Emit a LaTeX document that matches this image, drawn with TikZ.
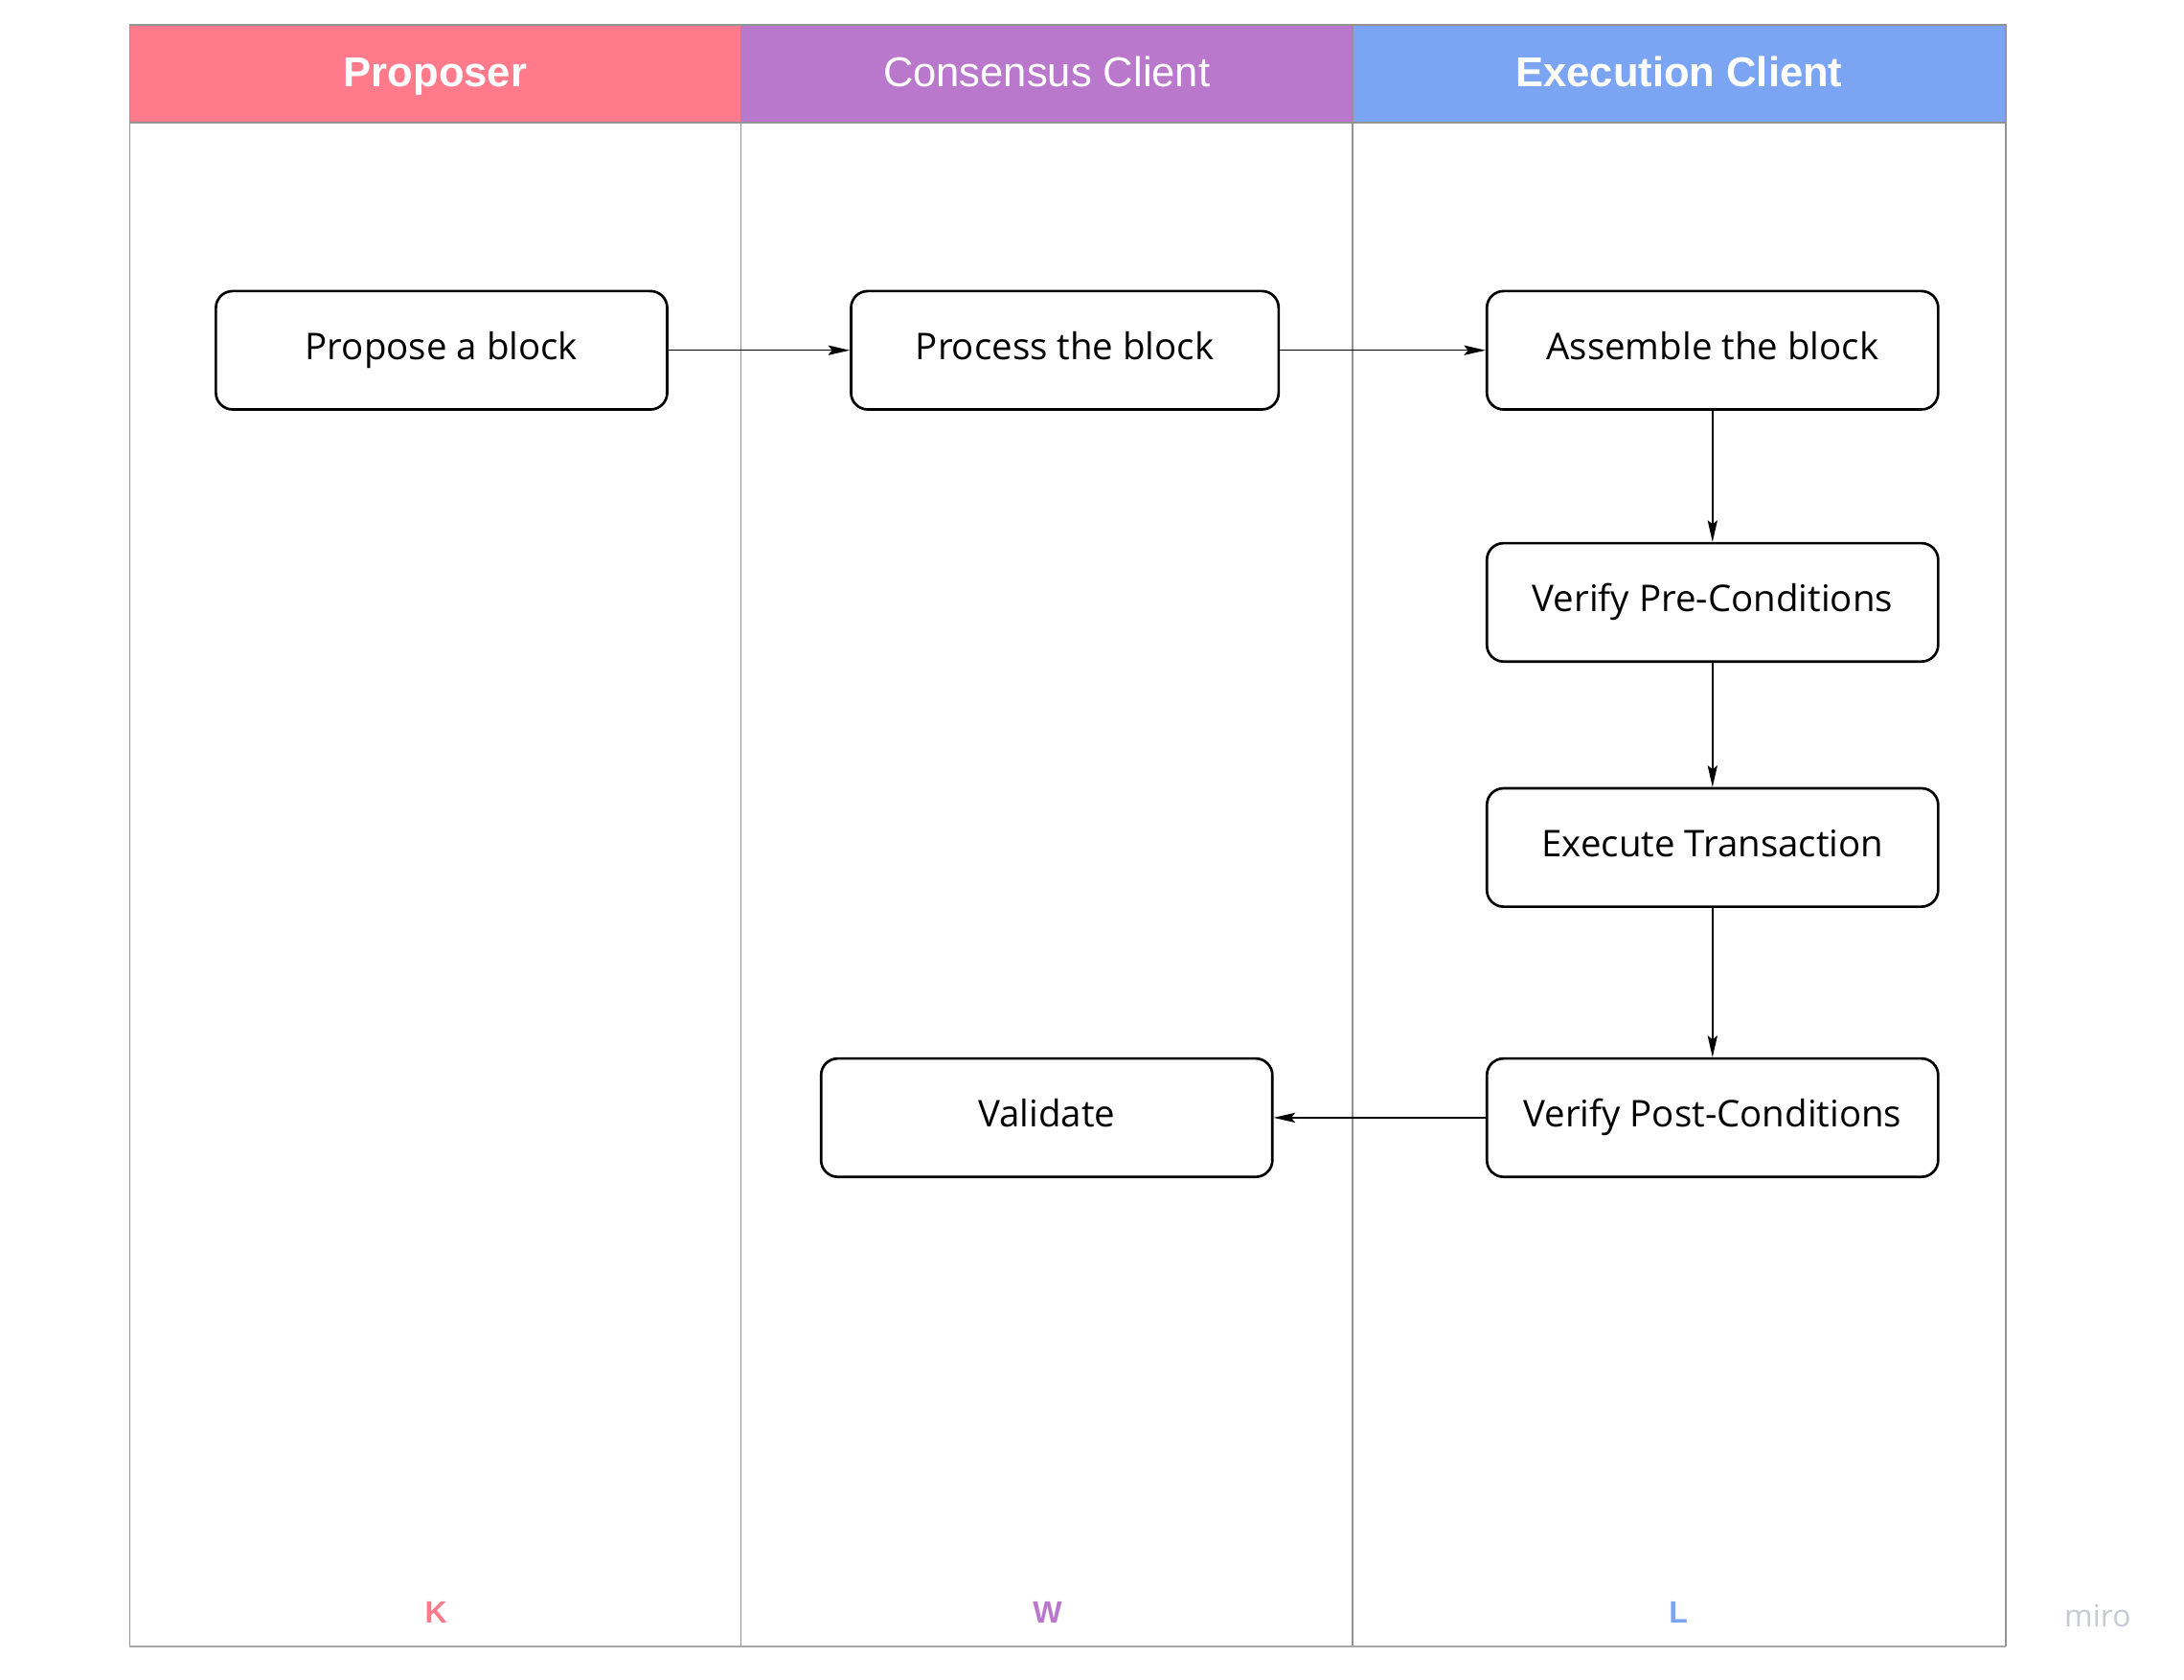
\documentclass[tikz,border=0pt]{standalone}
\usepackage{fontspec}
\setmainfont{Open Sans}
\newfontfamily\headfont{Liberation Sans}
\usetikzlibrary{arrows.meta}

\begin{document}
\begin{tikzpicture}[x=0.25mm, y=-0.25mm,
    lane/.style={draw=gray!85, line width=0.7pt},
    lanehead/.style={draw=gray!85, line width=0.7pt, minimum height=70*0.25mm,
        text=white, font=\headfont\fontsize{21.3}{24}\selectfont, inner sep=0pt,
        text height=15pt, text depth=1.5pt},
    stepbox/.style={draw, line width=1.3pt, rounded corners=3mm, fill=white,
        minimum width=81mm, minimum height=21.25mm, font=\fontsize{18.8}{22}\selectfont,
        text height=14pt, text depth=4.5pt},
    flow/.style={line width=0.7pt, -{Stealth[length=11pt, width=5pt, inset=2pt]}},
    lanetag/.style={font=\headfont\bfseries\fontsize{15.7}{18}\selectfont}]

    % Colors for the lanes
    \definecolor{propcol}{HTML}{FF7B8C}
    \definecolor{conscol}{HTML}{BA78CC}
    \definecolor{execcol}{HTML}{7BA5F3}
    \definecolor{mirogray}{HTML}{C8CAD3}

    \useasboundingbox (0,0) rectangle (1568,1206);

    % Lanes
    \draw[lane] (93,88) rectangle (532,1182);
    \draw[lane] (532,88) rectangle (971,1182);
    \draw[lane] (971,88) rectangle (1440,1182);
    \draw[gray!70, line width=1.2pt] (93,1182) -- (1440,1182);

    % Lane headers
    \node[lanehead, fill=propcol, minimum width=439*0.25mm, font=\headfont\bfseries\fontsize{21.3}{24}\selectfont]
        (proposer) at (312.5,53) {Proposer};
    \node[lanehead, fill=conscol, minimum width=439*0.25mm]
        (consensus) at (751.5,53) {Consensus Client};
    \node[lanehead, fill=execcol, minimum width=469*0.25mm, font=\headfont\bfseries\fontsize{21.3}{24}\selectfont]
        (execution) at (1205.5,53) {Execution Client};

    % Steps
    \node[stepbox] (propose) at (317,251.5) {Propose a block};
    \node[stepbox, minimum width=76.75mm] (process) at (764.5,251.5) {Process the block};
    \node[stepbox] (assemble) at (1229.5,251.5) {Assemble the block};
    \node[stepbox] (precond) at (1229.5,432.5) {Verify Pre-Conditions};
    \node[stepbox] (execute) at (1229.5,608.5) {Execute Transaction};
    \node[stepbox] (postcond) at (1229.5,802.5) {Verify Post-Conditions};
    \node[stepbox] (validate) at (751.5,802.5) {Validate};

    % Flow
    \draw[flow] (propose) -- (process);
    \draw[flow] (process) -- (assemble);
    \draw[flow] (assemble) -- (precond);
    \draw[flow] (precond) -- (execute);
    \draw[flow] (execute) -- (postcond);
    \draw[flow] (postcond) -- (validate);

    % Lane tags
    \node[lanetag, text=propcol] (tagK) at (313,1158) {K};
    \node[lanetag, text=conscol] (tagW) at (752,1158) {W};
    \node[lanetag, text=execcol] (tagL) at (1205,1158) {L};
    \node[text=mirogray, font=\fontsize{15.6}{18}\selectfont] (miro) at (1506,1160) {miro};

\end{tikzpicture}
\end{document}
